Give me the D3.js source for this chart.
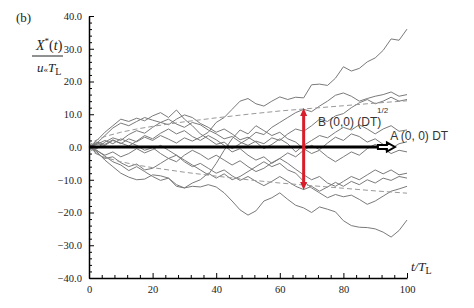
<!DOCTYPE html>
<html>
<head>
<meta charset="utf-8">
<script src="https://cdn.jsdelivr.net/npm/d3@7"></script>
<style>
body { margin: 0; background: #fff; }
text { font-family: "Liberation Serif", "Times New Roman", serif; }
</style>
</head>
<body>
<div id="chart"></div>
<script>
// time axis shared by all walks (t / T_L)
var times = [0, 2.5, 5, 7.5, 10, 12.5, 15, 17.5, 20, 22.5, 25, 27.5, 30, 32.5, 35, 37.5, 40, 42.5, 45, 47.5, 50,
             52.5, 55, 57.5, 60, 62.5, 65, 67.5, 70, 72.5, 75, 77.5, 80, 82.5, 85, 87.5, 90, 92.5, 95, 97.5, 100];

// particle displacements X*(t) / u T_L
var walkA = [0, 1.5, 0.8, 2.2, 1.0, 2.5, 1.6, 3.0, 2.0, 3.5, 2.4, 1.2, 2.8, 1.8, 3.0, 4.5, 7.5, 9.0, 11.5, 14.0, 14.8,
             13.2, 12.5, 14.0, 15.3, 14.5, 15.2, 15.0, 19.0, 19.2, 18.8, 21.0, 24.5, 23.2, 24.0, 26.0, 27.2, 29.5, 33.0, 32.6, 36.0];
var walkB = [0, 2.0, 4.5, 6.5, 8.5, 7.8, 8.8, 8.0, 9.5, 10.5, 9.0, 11.3, 8.5, 6.5, 4.0, 2.5, 0.8, 1.5, -0.5, 1.0, 2.5,
             4.5, 3.8, 6.0, 7.5, 9.0, 10.5, 11.5, 10.8, 12.5, 14.0, 15.8, 16.5, 15.5, 14.0, 14.8, 15.5, 16.0, 16.8, 15.5, 16.0];
var walkC = [0, 1.2, 3.5, 5.8, 7.3, 6.5, 7.8, 9.0, 8.2, 7.5, 8.5, 7.0, 6.0, 7.5, 6.8, 5.2, 4.0, 2.5, 3.2, 1.5, 0.5,
             1.8, 1.0, 2.8, 2.0, 4.0, 5.5, 4.8, 6.5, 8.5, 7.8, 9.5, 10.2, 12.0, 13.5, 14.5, 13.2, 14.0, 15.2, 14.0, 14.5];
var walkD = [0, -0.5, 1.5, 2.8, 2.0, 3.8, 5.0, 4.2, 6.0, 7.5, 6.8, 8.5, 9.8, 9.0, 7.2, 6.0, 4.5, 5.5, 4.0, 2.2, 3.0,
             1.5, -0.5, 0.8, 2.5, 1.0, -1.5, 0.5, 2.0, 3.5, 2.8, 4.5, 6.0, 5.2, 6.8, 5.5, 4.0, 5.5, 6.5, 4.8, 5.2];
var walkE = [0, 1.0, 0.5, 2.0, 1.2, 0.3, 1.8, 3.5, 2.5, 4.2, 5.5, 4.0, 5.0, 3.2, 2.0, 3.5, 2.2, 0.5, -1.5, -0.5, -2.5,
             -4.0, -3.0, -5.0, -3.5, -1.8, -3.0, -1.0, 0.5, -0.8, 1.2, 3.0, 2.0, 4.0, 3.2, 1.5, 2.5, 0.8, -0.5, 1.0, 1.6];
var walkF = [0, -1.2, -2.5, -1.5, -3.0, -2.0, -0.5, -1.8, -0.8, 0.5, -1.0, -2.5, -4.0, -5.5, -7.0, -8.5, -5.0, -1.0, 2.5, 5.2, 4.0,
             6.5, 5.0, 3.5, 4.5, 2.5, 1.5, -0.5, -2.0, -1.0, -3.0, -4.5, -3.0, -1.5, -2.5, -0.5, 0.8, -0.5, -2.0, -1.0, -1.5];
var walkG = [0, -2.0, -3.5, -3.0, -4.8, -6.0, -5.2, -7.0, -6.5, -5.0, -3.5, -4.5, -2.5, -1.0, -2.2, -3.8, -2.5, -4.0, -5.5, -4.2, -6.0,
             -7.5, -6.5, -4.8, -3.5, -5.0, -6.8, -8.5, -10.0, -9.0, -11.0, -12.0, -10.5, -9.0, -10.0, -8.5, -7.0, -8.2, -7.0, -8.5, -8.0];
var walkH = [0, 0.8, 2.0, 1.0, 2.5, 1.5, 0.5, -1.0, -0.2, -2.0, -3.5, -2.5, -4.5, -6.0, -5.0, -6.5, -8.0, -7.0, -8.8, -10.2, -9.0,
             -10.5, -11.8, -10.5, -9.0, -10.5, -12.0, -13.0, -12.0, -13.5, -12.2, -10.8, -12.0, -10.5, -11.5, -10.0, -11.0, -9.5, -10.2, -9.0, -9.5];
var walkI = [0, -1.0, -2.8, -4.5, -5.5, -7.2, -6.0, -7.5, -9.0, -10.2, -9.5, -11.5, -12.5, -11.0, -10.0, -8.0, -9.5, -8.2, -10.0, -9.0, -7.5,
             -6.0, -4.5, -6.0, -5.0, -7.0, -8.0, -10.5, -12.5, -14.0, -15.5, -14.5, -15.2, -14.7, -16.0, -17.5, -16.5, -15.0, -13.5, -12.8, -12.0];
var walkJ = [0, -1.5, -4.0, -6.0, -8.0, -9.2, -10.0, -9.8, -8.5, -8.8, -9.5, -12.0, -12.5, -12.0, -12.2, -11.5, -12.2, -14.0, -16.5, -19.2, -20.8,
             -19.5, -16.5, -15.5, -14.0, -16.0, -17.8, -18.6, -20.0, -18.3, -19.0, -19.8, -22.5, -24.0, -24.5, -24.6, -25.0, -26.0, -27.5, -25.5, -22.3];

// dashed spreading envelope
var envTimes = [0, 1, 2.5, 5, 10, 15, 20, 30, 40, 50, 60, 70, 80, 90, 100];
var envUpper = [0, 1.4, 2.2, 3.2, 4.5, 5.5, 6.3, 7.7, 8.9, 10.0, 11.0, 11.8, 12.6, 13.4, 14.1];
var envLower = [0, -1.4, -2.2, -3.2, -4.5, -5.5, -6.3, -7.7, -8.9, -10.0, -11.0, -11.8, -12.6, -13.4, -14.1];

// arrows
var arrowAEnd = 96.2;
var arrowBAt = 67.5;
var arrowBRange = [-13.1, 11.9];

// tick labels
var xTicks = [0, 20, 40, 60, 80, 100];
var yTicks = [-40, -30, -20, -10, 0, 10, 20, 30, 40];

var width = 318, height = 262;
var svg = d3.select("#chart").append("svg")
    .attr("width", 474)
    .attr("height", 308);
var g = svg.append("g").attr("transform", "translate(89,16)");

var x = d3.scaleLinear().domain([0, 100]).range([0, width]);
var y = d3.scaleLinear().domain([-40, 40]).range([height, 0]);

// random walk lines
var walks = [walkA, walkB, walkC, walkD, walkE, walkF, walkG, walkH, walkI, walkJ];
var walkLine = d3.line()
    .x(function(d, i) { return x(times[i]); })
    .y(function(d) { return y(d); });
g.selectAll(".walk")
    .data(walks)
    .enter()
    .append("path")
    .attr("class", "walk")
    .attr("d", walkLine)
    .attr("fill", "none")
    .attr("stroke", "#7a7a7a")
    .attr("stroke-width", 1);

// dashed envelope
var envLine = d3.line()
    .x(function(d, i) { return x(envTimes[i]); })
    .y(function(d) { return y(d); });
g.selectAll(".env")
    .data([envUpper, envLower])
    .enter()
    .append("path")
    .attr("class", "env")
    .attr("d", envLine)
    .attr("fill", "none")
    .attr("stroke", "#999")
    .attr("stroke-width", 1)
    .attr("stroke-dasharray", "5,3");

// axes: major and minor ticks point inward
var yAxis = d3.axisLeft(y).tickValues(yTicks).tickSize(-5).tickSizeOuter(0).tickPadding(7)
    .tickFormat(d3.format(".1f"));
var yMinor = d3.axisLeft(y).tickValues(d3.range(-40, 41, 2).filter(function(d) { return d % 10 !== 0; }))
    .tickSize(-3).tickFormat("");
var xAxis = d3.axisBottom(x).tickValues(xTicks).tickSize(-5).tickSizeOuter(0).tickPadding(8);
var xMinor = d3.axisBottom(x).tickValues(d3.range(0, 101, 4).filter(function(d) { return d % 20 !== 0; }))
    .tickSize(-3).tickFormat("");

g.append("g").attr("class", "minor").call(yMinor);
g.append("g").attr("class", "minor").attr("transform", "translate(0," + height + ")").call(xMinor);
g.selectAll(".minor .domain").remove();
var ya = g.append("g").call(yAxis);
var xa = g.append("g").attr("transform", "translate(0," + height + ")").call(xAxis);
g.selectAll(".domain").attr("stroke", "#000").attr("stroke-width", 1.5);
g.selectAll(".tick line").attr("stroke", "#000").attr("stroke-width", 1);
g.selectAll(".tick text")
    .style("font-family", "'Liberation Serif', serif")
    .attr("font-size", 10.5)
    .attr("fill", "#222");

// black horizontal arrow with hollow head
var tip = x(arrowAEnd), y0 = y(0);
g.append("line")
    .attr("x1", x(0)).attr("x2", tip - 17)
    .attr("y1", y0).attr("y2", y0)
    .attr("stroke", "#000").attr("stroke-width", 3);
g.append("path")
    .attr("d", "M" + (tip - 17) + "," + (y0 - 2) + "H" + (tip - 8) + "V" + (y0 - 4.5) +
               "L" + tip + "," + y0 + "L" + (tip - 8) + "," + (y0 + 4.5) + "V" + (y0 + 2) +
               "H" + (tip - 17) + "Z")
    .attr("fill", "#fff").attr("stroke", "#000").attr("stroke-width", 2);

// red double arrow
var bx = x(arrowBAt), bTop = y(arrowBRange[1]), bBot = y(arrowBRange[0]);
g.append("line")
    .attr("x1", bx).attr("x2", bx)
    .attr("y1", bTop + 4).attr("y2", bBot - 4)
    .attr("stroke", "#d81e2a").attr("stroke-width", 3);
g.append("path")
    .attr("d", "M" + (bx - 3.5) + "," + (bTop + 8) + "L" + bx + "," + bTop + "L" + (bx + 3.5) + "," + (bTop + 8) + "Z" +
               "M" + (bx - 3.5) + "," + (bBot - 8) + "L" + bx + "," + bBot + "L" + (bx + 3.5) + "," + (bBot - 8) + "Z")
    .attr("fill", "#d81e2a");

// annotation labels
g.append("text")
    .attr("x", x(72)).attr("y", y(6.4))
    .style("font-family", "'Liberation Sans', Arial, sans-serif")
    .attr("font-size", 12).attr("fill", "#333")
    .text("B (0,0) (DT)");
g.append("text")
    .attr("x", x(90.6)).attr("y", y(10.4))
    .style("font-family", "'Liberation Sans', Arial, sans-serif")
    .attr("font-size", 8).attr("fill", "#333")
    .text("1/2");
g.append("text")
    .attr("x", x(94.7)).attr("y", y(2.1))
    .style("font-family", "'Liberation Sans', Arial, sans-serif")
    .attr("font-size", 12).attr("fill", "#333")
    .text("A (0, 0) DT");

// panel tag and axis titles
svg.append("text").attr("x", 16).attr("y", 22).attr("font-size", 13).attr("fill", "#222").text("(b)");

var num = svg.append("text").attr("x", 36).attr("y", 50).attr("font-size", 14).attr("fill", "#222");
num.append("tspan").attr("font-style", "italic").text("X");
num.append("tspan").attr("dy", -6).attr("font-size", 9).text("*");
num.append("tspan").attr("dy", 6).text("(");
num.append("tspan").attr("font-style", "italic").text("t");
num.append("tspan").text(")");
svg.append("line").attr("x1", 32).attr("x2", 63).attr("y1", 56).attr("y2", 56)
    .attr("stroke", "#222").attr("stroke-width", 1);
var den = svg.append("text").attr("x", 37).attr("y", 72).attr("font-size", 13).attr("fill", "#222");
den.append("tspan").attr("font-style", "italic").text("u");
den.append("tspan").attr("font-size", 9).text("«");
den.append("tspan").attr("font-style", "italic").text("T");
den.append("tspan").attr("dy", 3).attr("font-size", 10).text("L");

var xl = svg.append("text").attr("x", 411).attr("y", 271).attr("font-size", 13).attr("fill", "#222");
xl.append("tspan").attr("font-style", "italic").text("t/T");
xl.append("tspan").attr("dy", 3).attr("font-size", 10).text("L");
</script>
</body>
</html>
